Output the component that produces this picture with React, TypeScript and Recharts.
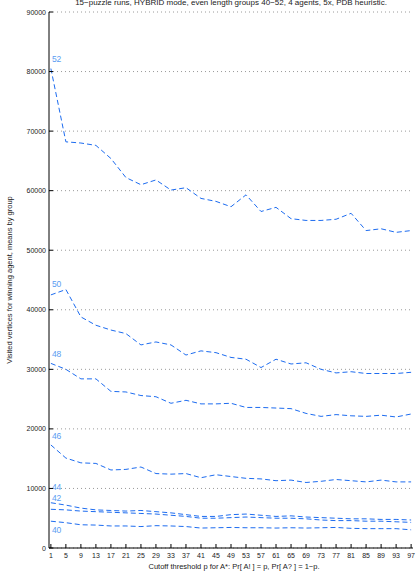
import React from "react";
import {
  LineChart,
  Line,
  XAxis,
  YAxis,
  CartesianGrid,
} from "recharts";

const cutoffs = [1, 5, 9, 13, 17, 21, 25, 29, 33, 37, 41, 45, 49, 53, 57, 61, 65, 69, 73, 77, 81, 85, 89, 93, 97];
const yTicks = [0, 10000, 20000, 30000, 40000, 50000, 60000, 70000, 80000, 90000];

const g52 = [80500, 68200, 68000, 67600, 65400, 62200, 61000, 61800, 60100, 60500, 58700, 58200, 57300, 59300, 56500, 57200, 55300, 55000, 55000, 55200, 56200, 53300, 53600, 53000, 53300];
const g50 = [42500, 43400, 38800, 37400, 36600, 36000, 34100, 34600, 34100, 32400, 33100, 32800, 32000, 31700, 30300, 31700, 30900, 31100, 30000, 29400, 29600, 29300, 29300, 29300, 29500];
const g48 = [31000, 30000, 28400, 28400, 26300, 26200, 25600, 25400, 24300, 24800, 24200, 24200, 24300, 23600, 23600, 23500, 23400, 22600, 22100, 22400, 22200, 22100, 22300, 22000, 22500];
const g46 = [17300, 15100, 14300, 14200, 13100, 13200, 13600, 12500, 12400, 12500, 11800, 12300, 12000, 11700, 11600, 11300, 11400, 11000, 11200, 11500, 11300, 11100, 11400, 11100, 11100];
const g44 = [7600, 7200, 6700, 6400, 6300, 6200, 6300, 6100, 5900, 5600, 5300, 5300, 5600, 5700, 5500, 5300, 5400, 5200, 5100, 5000, 4900, 4900, 4800, 4800, 4700];
const g42 = [6500, 6400, 6200, 6100, 6000, 5900, 5800, 5700, 5500, 5300, 5000, 5000, 5100, 5200, 5100, 5000, 5000, 4900, 4700, 4600, 4600, 4500, 4500, 4400, 4300];
const g40 = [4500, 4250, 3900, 3850, 3700, 3700, 3600, 3750, 3700, 3600, 3350, 3400, 3450, 3400, 3400, 3350, 3400, 3350, 3400, 3450, 3300, 3250, 3250, 3250, 3050];

const groups = [
  { key: "g52", name: "52", values: g52, labelDy: -7 },
  { key: "g50", name: "50", values: g50, labelDy: -8 },
  { key: "g48", name: "48", values: g48, labelDy: -6 },
  { key: "g46", name: "46", values: g46, labelDy: -6 },
  { key: "g44", name: "44", values: g44, labelDy: -13 },
  { key: "g42", name: "42", values: g42, labelDy: -8 },
  { key: "g40", name: "40", values: g40, labelDy: 12 },
];

const data = cutoffs.map((p, i) => {
  const row: any = { p };
  groups.forEach((g) => {
    row[g.key] = g.values[i];
  });
  return row;
});

const FONT = "'Liberation Sans', Arial, sans-serif";
const LINE = "#1d6cf0";
const LABEL = "#5b9cf2";

const YTick = ({ x, y, payload }: any) => (
  <g>
    <line x1={x} y1={y} x2={x + 4} y2={y} stroke="#000" strokeWidth={1} />
    <text x={x - 3} y={y + 2.5} textAnchor="end" fontSize={7} fill="#222" fontFamily={FONT}>
      {payload.value}
    </text>
  </g>
);

const XTick = ({ x, y, payload }: any) => (
  <g>
    <line x1={x} y1={y} x2={x} y2={y - 4} stroke="#000" strokeWidth={1} />
    <text x={x} y={y + 9.5} textAnchor="middle" fontSize={7} fill="#222" fontFamily={FONT}>
      {payload.value}
    </text>
  </g>
);

// first point of each line carries the group's name instead of a dot
const groupDot = (name: string, dy: number) => (props: any) => {
  const { cx, cy, index } = props;
  if (index !== 0) return <g key={`d-${name}-${index}`} />;
  return (
    <text key={`d-${name}-${index}`} x={cx + 1} y={cy + dy} fontSize={8.5} fill={LABEL} fontFamily={FONT}>
      {name}
    </text>
  );
};

export default function App() {
  return (
    <div style={{ position: "absolute", left: 0, top: 0, width: 417, height: 574, background: "#fff" }}>
      <LineChart
        width={417}
        height={574}
        data={data}
        margin={{ top: 12, right: 4, left: 0, bottom: 0 }}
      >
        <CartesianGrid
          vertical={false}
          stroke="#9a9a9a"
          strokeDasharray="1 3"
        />
        <XAxis
          dataKey="p"
          type="number"
          domain={[0.5, 97.5]}
          ticks={cutoffs}
          height={26}
          tickSize={0}
          tickMargin={0}
          tickLine={false}
          axisLine={{ stroke: "#000", strokeWidth: 1 }}
          tick={<XTick />}
          interval={0}
        />
        <YAxis
          type="number"
          domain={[0, 90000]}
          ticks={yTicks}
          width={49}
          tickSize={0}
          tickMargin={0}
          tickLine={false}
          axisLine={{ stroke: "#000", strokeWidth: 1 }}
          tick={<YTick />}
          interval={0}
        />
        {groups.map((g) => (
          <Line
            key={g.key}
            dataKey={g.key}
            type="linear"
            stroke={LINE}
            strokeWidth={1}
            strokeDasharray="5 3"
            dot={groupDot(g.name, g.labelDy)}
            activeDot={false}
            isAnimationActive={false}
          />
        ))}
        <text x={231} y={5} textAnchor="middle" fontSize={8} fill="#222" fontFamily={FONT}>
          15−puzzle runs, HYBRID mode, even length groups 40−52, 4 agents, 5x, PDB heuristic.
        </text>
        <text x={234} y={568.5} textAnchor="middle" fontSize={7.5} fill="#222" fontFamily={FONT}>
          Cutoff threshold p for A*: Pr[ A! ] = p, Pr[ A? ] = 1−p.
        </text>
        <text
          x={12}
          y={280}
          textAnchor="middle"
          fontSize={7.5}
          fill="#222"
          fontFamily={FONT}
          transform="rotate(-90 12 280)"
        >
          Visited vertices for winning agent, means by group
        </text>
      </LineChart>
    </div>
  );
}
